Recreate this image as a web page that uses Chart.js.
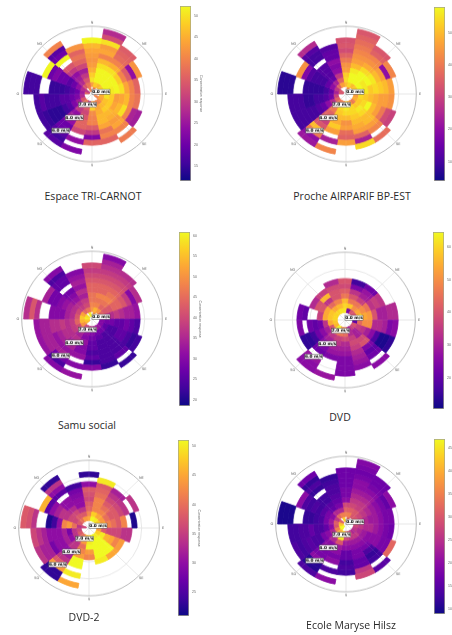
<!DOCTYPE html>
<html>
<head>
<meta charset="utf-8">
<title>Polar concentration response</title>
<script src="https://cdn.jsdelivr.net/npm/chart.js@4"></script>
<style>
  html, body { margin: 0; padding: 0; background: #fff; }
  #page { position: relative; width: 452px; height: 635px; overflow: hidden; }
  canvas { position: absolute; filter: blur(0.35px); }
  .caption { position: absolute; transform: translate(-50%, -50%); font-family: "Open Sans", sans-serif; font-size: 10.5px; color: #2a2a2a; white-space: nowrap; }
</style>
</head>
<body>
<div id="page"></div>
<script>
const _ = null;

// 18 wind sectors of 20 degrees, first one centred on north
const sectorWidths = [20, 20, 20, 20, 20, 20, 20, 20, 20, 20, 20, 20, 20, 20, 20, 20, 20, 20];
const ringCount = 13;
const compass = ["N", "NE", "E", "SE", "S", "SO", "O", "NO"];
const speedLabels = ["0.0 m/s", "2.0 m/s", "4.0 m/s", "6.0 m/s"];

// each line is one sector clockwise from north, values from the centre outwards
const triCarnot = [
  [_,43,50,48,45,43,42,43,44,46,52],
  [40,48,52,52,52,50,46,40,44,43,50,33,28],
  [_,46,52,52,52,50,45,40,37,36,35],
  [_,48,52,52,52,48,40,35,24,42],
  [40,45,52,51,52,50,44,40,36],
  [_,45,50,48,43,44,46,40,38],
  [40,44,47,48,44,46,50,40,27,26],
  [_,40,46,48,46,45,43,44,40,_,39],
  [_,40,44,45,46,46,44,38,40,36],
  [_,43,48,41,40,40,35,30,22,36],
  [_,30,35,32,34,36,36,32,_,24,_,22],
  [_,38,32,30,24,26,24,20,20,18,16,18],
  [_,34,26,22,18,16,14,14,14,15,16],
  [_,28,22,20,18,18,16,16,16,18,16],
  [36,26,20,18,16,15,15,15,_,_,16,16,16],
  [30,28,24,20,18,20,20,22,20,52],
  [_,34,28,26,24,30,34,_,52,20,18,40],
  [40,38,34,30,26,32,36,38,36,42],
];

const airparif = [
  [_,50,54,52,46,44,40,36,32,34,33],
  [44,54,58,58,56,50,46,44,42,40,38,36,34],
  [_,50,58,58,58,54,48,44,42,36,34],
  [_,52,58,56,58,56,50,46,20,42],
  [_,50,58,56,52,54,52,50,46],
  [_,46,54,52,50,48,46,46,44],
  [_,48,52,54,58,50,46,40,32,30],
  [_,40,52,56,54,50,50,46,42,_,38],
  [_,46,54,54,52,50,48,46,36,24,54],
  [_,52,56,54,50,44,46,38,36,46],
  [_,42,54,52,50,48,52,46,_,24,_,42],
  [_,40,44,40,36,36,30,34,50,40,20,22],
  [_,36,26,20,14,12,10,10,10,10,10],
  [_,30,16,12,10,10,8,8,10,10,10],
  [34,24,14,10,8,8,8,8,_,_,7,7,7],
  [34,28,20,14,10,10,10,12,18,44],
  [_,36,24,14,12,12,12,_,10,10,12,26],
  [_,46,36,28,20,18,20,14,14,12],
];

const samuSocial = [
  [_,50,48,46,46,44,44,42,40,38,40],
  [50,54,48,46,48,44,44,42,40,38,36,34,30],
  [_,50,44,46,48,46,44,42,40,38,36],
  [_,44,42,42,44,44,42,38,30,36],
  [_,38,36,36,38,36,34,34,32],
  [_,30,28,28,26,26,28,26,24],
  [_,30,26,24,24,26,26,24,22,23],
  [_,32,28,24,24,24,24,24,26,_,22],
  [_,34,28,26,24,24,24,24,24,22],
  [_,36,30,28,26,26,24,26,22,30],
  [_,38,32,30,32,30,30,32,_,30,_,32],
  [_,40,36,34,36,34,34,32,34,28,24,30],
  [54,50,40,38,36,36,34,32,34,34,32],
  [56,54,44,38,36,38,36,36,34,34,32],
  [60,56,42,36,34,30,30,30,_,_,36,42,36],
  [58,52,40,36,34,32,30,28,28,34],
  [_,44,38,36,32,30,28,_,26,26,24,30],
  [60,46,40,38,34,36,32,34,32,30],
];

const dvd = [
  [_,62,60,56,46,42,38,40],
  [_,24,58,46,40,34,24,16],
  [_,40,50,46,36,30,28,22],
  [_,40,54,50,46,34,36,34],
  [_,30,64,54,52,40,30,30,32,32],
  [_,20,44,50,50,32,32,30,24,26],
  [_,40,36,34,30,26,18,12,12,14],
  [_,36,30,30,38,40,24,20,22,_,26],
  [_,30,32,36,38,36,32,30,28,26],
  [_,46,44,38,32,30,28,24,24,24,24],
  [_,50,46,36,34,30,28,24,_,_,_,28],
  [_,64,44,34,30,26,24,22,_,28,26,26],
  [_,56,40,30,26,22,16,14,14],
  [_,58,54,34,22,20,22,_,24],
  [_,60,58,54,36,_,_,20,22],
  [_,60,58,54,40,40,32],
  [_,60,54,44,34,56,36],
  [_,62,56,48,40,40,38,32],
];

const dvd2 = [
  [_,45,42,39,38,36,37,38,30,_,23],
  [_,51,48,42,42,42,40,39,38,50],
  [_,50,45,42,40,38,36,34,32],
  [_,48,44,40,38,38,36,34,_,34],
  [_,51,46,42,40,38,42,_,22],
  [_,44,38,36,36,36,34,34],
  [_,48,50,46,45,42,44],
  [_,50,51,51,51,51,45],
  [_,51,51,51,51,51,50],
  [_,48,50,51,44,42],
  [_,46,44,40,42,44,51,51,_,50,_,45],
  [_,40,38,34,34,30,32,34,38,44,23,23],
  [_,38,34,30,32,30,30,28,32,32,34],
  [_,36,34,28,32,30,30,30,32,34,36],
  [36,34,40,44,42,30,24,22,_,_,34,37,38],
  [_,38,36,36,34,34,32,30,26,46],
  [_,40,38,36,33,30,30,_,26,30,34,23],
  [_,44,38,34,30,30,29,28,24],
];

const hilsz = [
  [_,35,31,28,20,18,18,17,17,17,17],
  [31,35,31,28,26,24,22,20,20,18,17,18,19],
  [_,30,30,27,26,24,22,20,18,17,17],
  [_,30,28,26,24,22,20,18,16,20],
  [_,31,26,24,22,22,20,18,18],
  [_,28,26,24,24,22,20,18,17],
  [_,26,24,22,20,20,20,18,18,32],
  [_,24,26,22,20,18,14,12,13,_,15],
  [_,28,26,22,20,18,18,16,16,26,28],
  [_,33,28,22,20,16,16,13,14,13],
  [_,43,45,30,22,20,18,20,_,14,_,20],
  [47,40,30,24,20,20,18,18,20,11,11,14],
  [47,35,24,20,18,14,14,15,14,13,14],
  [43,30,20,16,14,14,16,14,14,13,13],
  [40,31,22,18,14,13,12,12,_,_,10,10,10],
  [31,26,20,18,15,13,14,13,14,20],
  [_,32,24,16,15,13,13,_,12,14,12,17],
  [43,35,24,18,16,15,14,14,13,12],
];

// colour bar tick labels
const triCarnotTicks = [50, 45, 40, 35, 30, 25, 20, 15];
const airparifTicks = [50, 40, 30, 20, 10];
const samuTicks = [60, 55, 50, 45, 40, 35, 30, 25, 20];
const dvdTicks = [60, 50, 40, 30, 20];
const dvd2Ticks = [50, 45, 40, 35, 30, 25];
const hilszTicks = [45, 40, 35, 30, 25, 20, 15, 10];

const plasma = ["#0d0887", "#41049d", "#6a00a8", "#8f0da4", "#b12a90", "#cc4778", "#e16462", "#f2844b", "#fca636", "#fcce25", "#f0f921"];

const panels = [
  { name: "Espace TRI-CARNOT", values: triCarnot, ticks: triCarnotTicks, min: 11.6, max: 52.3, cx: 91.7, cy: 94, barX: 180, barTop: 2, barBottom: 185, capX: 93, capY: 196 },
  { name: "Proche AIRPARIF BP-EST", values: airparif, ticks: airparifTicks, min: 4, max: 58, cx: 346, cy: 94, barX: 434, barTop: 3, barBottom: 185, capX: 352, capY: 196 },
  { name: "Samu social", values: samuSocial, ticks: samuTicks, min: 18.5, max: 60.9, cx: 91.7, cy: 319, barX: 179, barTop: 228, barBottom: 410, capX: 87, capY: 425 },
  { name: "DVD", values: dvd, ticks: dvdTicks, min: 10.4, max: 64.6, cx: 345, cy: 320, barX: 433, barTop: 228, barBottom: 413, capX: 340, capY: 417 },
  { name: "DVD-2", values: dvd2, ticks: dvd2Ticks, min: 21, max: 51, cx: 89.3, cy: 528, barX: 178, barTop: 436, barBottom: 620, capX: 84, capY: 617 },
  { name: "Ecole Maryse Hilsz", values: hilsz, ticks: hilszTicks, min: 9, max: 47, cx: 346, cy: 524, barX: 434, barTop: 435, barBottom: 618, capX: 351, capY: 625 },
];

const page = document.getElementById("page");

function hexToRgb(hex) {
  return [1, 3, 5].map((i) => parseInt(hex.slice(i, i + 2), 16));
}

function plasmaColor(t) {
  const p = Math.min(Math.max(t, 0), 1) * (plasma.length - 1);
  const i = Math.min(Math.floor(p), plasma.length - 2);
  const a = hexToRgb(plasma[i]);
  const b = hexToRgb(plasma[i + 1]);
  const c = a.map((v, k) => Math.round(v + (b[k] - v) * (p - i)));
  return `rgb(${c[0]},${c[1]},${c[2]})`;
}

function addCanvas(left, top, width, height, shownHeight) {
  const canvas = document.createElement("canvas");
  canvas.width = width;
  canvas.height = height;
  canvas.style.left = left + "px";
  canvas.style.top = top + "px";
  canvas.style.width = width + "px";
  canvas.style.height = shownHeight + "px";
  page.appendChild(canvas);
  return canvas;
}

// circles, spokes and labels around the doughnut rings
const polarGrid = {
  id: "polarGrid",
  beforeDatasetsDraw(chart) {
    const { ctx, chartArea } = chart;
    const x = (chartArea.left + chartArea.right) / 2;
    const y = (chartArea.top + chartArea.bottom) / 2;
    const outer = 70.3;
    ctx.save();
    ctx.strokeStyle = "#dcdcdc";
    ctx.lineWidth = 0.7;
    [17.6, 35.1, 52.7].forEach((r) => {
      ctx.beginPath();
      ctx.arc(x, y, r, 0, Math.PI * 2);
      ctx.stroke();
    });
    for (let i = 0; i < 8; i++) {
      const a = (i * Math.PI) / 4;
      ctx.beginPath();
      ctx.moveTo(x, y);
      ctx.lineTo(x + Math.sin(a) * outer, y - Math.cos(a) * outer);
      ctx.stroke();
    }
    ctx.strokeStyle = "#a8a8a8";
    ctx.lineWidth = 0.8;
    ctx.beginPath();
    ctx.arc(x, y, outer, 0, Math.PI * 2);
    ctx.stroke();
    ctx.restore();
  },
  afterDatasetsDraw(chart) {
    const { ctx, chartArea } = chart;
    const x = (chartArea.left + chartArea.right) / 2;
    const y = (chartArea.top + chartArea.bottom) / 2;
    ctx.save();
    // spokes stay faintly visible over the cells
    ctx.strokeStyle = "rgba(255,255,255,0.14)";
    ctx.lineWidth = 0.6;
    for (let i = 0; i < 8; i++) {
      const a = (i * Math.PI) / 4;
      ctx.beginPath();
      ctx.moveTo(x, y);
      ctx.lineTo(x + Math.sin(a) * 68, y - Math.cos(a) * 68);
      ctx.stroke();
    }
    ctx.textAlign = "center";
    ctx.textBaseline = "middle";
    ctx.font = "3.5px 'DejaVu Sans'";
    ctx.fillStyle = "#555";
    compass.forEach((label, i) => {
      const a = (i * Math.PI) / 4;
      ctx.fillText(label, x + Math.sin(a) * 74, y - Math.cos(a) * 74);
    });
    ctx.font = "bold 4.3px 'DejaVu Sans'";
    speedLabels.forEach((label, k) => {
      const lx = x + 9 - 13.4 * k;
      const ly = y - 2.3 + 13.4 * k;
      ctx.fillStyle = "rgba(255,255,255,0.95)";
      ctx.fillRect(lx - 9, ly - 2.6, 18, 5.2);
      ctx.strokeStyle = "#333";
      ctx.lineWidth = 0.4;
      ctx.strokeRect(lx - 9, ly - 2.6, 18, 5.2);
      ctx.fillStyle = "#000";
      ctx.fillText(label, lx, ly);
    });
    ctx.restore();
  },
};

function drawPolar(panel) {
  const size = 170;
  // the source picture is a little flattened vertically
  const shown = size * 0.96;
  const canvas = addCanvas(panel.cx - size / 2, panel.cy - shown / 2, size, size, shown);
  const datasets = [];
  // first dataset of a doughnut is the outer ring
  for (let ring = ringCount - 1; ring >= 0; ring--) {
    const colors = panel.values.map((sector) => {
      const v = sector[ring];
      if (v === null || v === undefined) return "rgba(0,0,0,0)";
      return plasmaColor((v - panel.min) / (panel.max - panel.min));
    });
    datasets.push({
      data: sectorWidths,
      backgroundColor: colors,
      borderColor: colors,
      borderWidth: 0.8,
    });
  }
  new Chart(canvas, {
    type: "doughnut",
    plugins: [polarGrid],
    data: { labels: sectorWidths.map((w, i) => "S" + i), datasets: datasets },
    options: {
      responsive: false,
      animation: false,
      rotation: -10,
      radius: 68.3,
      cutout: 3.3,
      layout: { padding: 0 },
      plugins: { legend: { display: false }, tooltip: { enabled: false } },
    },
  });
}

function drawColorBar(panel) {
  const width = 24;
  const height = panel.barBottom - panel.barTop + 2;
  const canvas = addCanvas(panel.barX - 1, panel.barTop - 1, width, height, height);
  new Chart(canvas, {
    type: "bar",
    data: {
      labels: [""],
      datasets: [
        {
          data: [[panel.min, panel.max]],
          barPercentage: 1,
          categoryPercentage: 1,
          borderColor: "#a5a58c",
          borderWidth: 1,
          borderSkipped: false,
          backgroundColor: (c) => {
            const area = c.chart.chartArea;
            if (!area) return plasma[5];
            const g = c.chart.ctx.createLinearGradient(0, area.bottom, 0, area.top);
            plasma.forEach((col, i) => g.addColorStop(i / (plasma.length - 1), col));
            return g;
          },
        },
      ],
    },
    options: {
      responsive: false,
      animation: false,
      layout: { padding: { left: 1, top: 1, bottom: 1, right: 0 } },
      plugins: { legend: { display: false }, tooltip: { enabled: false } },
      scales: {
        x: { display: false },
        y: {
          position: "right",
          min: panel.min,
          max: panel.max,
          grid: { display: false, drawTicks: false },
          border: { display: false },
          afterBuildTicks: (axis) => {
            axis.ticks = panel.ticks.map((v) => ({ value: v }));
          },
          afterFit: (axis) => {
            axis.width = 12;
          },
          ticks: { color: "#666", padding: 3, font: { size: 3.5 }, autoSkip: false, maxRotation: 0 },
          title: { display: true, text: "Concentration response", color: "#666", font: { size: 3.5 }, padding: 0 },
        },
      },
    },
  });
}

panels.forEach((panel) => {
  drawPolar(panel);
  drawColorBar(panel);
  const cap = document.createElement("div");
  cap.className = "caption";
  cap.textContent = panel.name;
  cap.style.left = panel.capX + "px";
  cap.style.top = panel.capY + "px";
  page.appendChild(cap);
});
</script>
</body>
</html>
